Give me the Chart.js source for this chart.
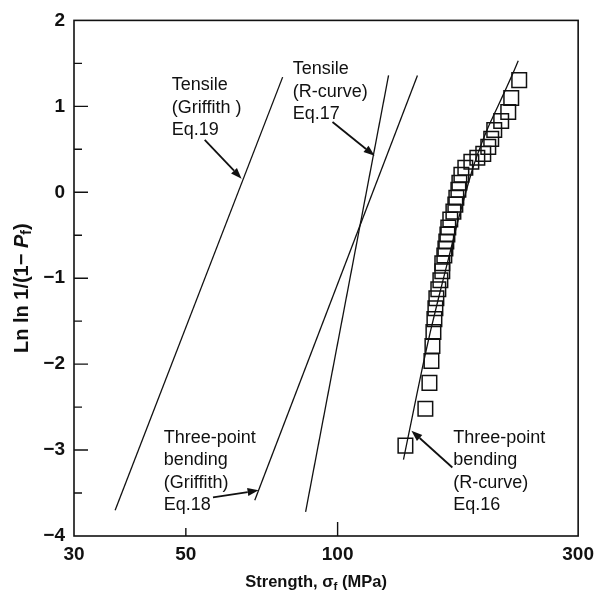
<!DOCTYPE html>
<html><head><meta charset="utf-8">
<script src="https://cdn.jsdelivr.net/npm/chart.js@4.4.1/dist/chart.umd.min.js"></script>
<style>html,body{margin:0;padding:0;background:#fff;}#wrap{width:601px;height:594px;}</style>
</head><body><div id="wrap"><canvas id="c" width="601" height="594"></canvas></div>
<script>
// ---------- data ----------
const xTickValues = [30, 50, 100, 300];
const yTickValues = [-4, -3, -2, -1, 0, 1, 2];
const yInnerTicks = [-3.5, -3, -2.5, -2, -1.5, -1, -0.5, 0, 0.5, 1, 1.5];
const xInnerTicks = [50, 100];

// Tensile (Griffith) Eq.19
const tensileGriffithX = [36.2, 77.8];
const tensileGriffithY = [-3.70, 1.34];
// Tensile (R-curve) Eq.17
const tensileRcurveX = [86.4, 126.2];
const tensileRcurveY = [-3.72, 1.36];
// Three-point bending (Griffith) Eq.18
const bendGriffithX = [68.5, 144.0];
const bendGriffithY = [-3.585, 1.36];
// Three-point bending (R-curve) Eq.16
const bendRcurveX = [135.1, 140.1, 147.3, 152.8, 159.2, 165.8, 172.8, 179.2, 185.9, 192.8, 199.0, 204.5, 212.1, 221.0, 228.2];
const bendRcurveY = [-3.11, -2.66, -2.04, -1.62, -1.19, -0.78, -0.36, -0.02, 0.30, 0.56, 0.76, 0.91, 1.11, 1.34, 1.53];
// measured strengths (squares)
const strengthX = [229.2, 221.0, 218.0, 211.1, 204.5, 201.7, 199.0, 194.5, 189.3, 184.2, 179.2, 176.0, 174.4, 173.6, 172.0, 171.2, 169.7, 167.3, 165.8, 165.1, 164.3, 163.6, 162.8, 161.3, 161.3, 159.9, 158.4, 157.0, 156.3, 155.6, 154.9, 154.2, 153.5, 152.1, 149.3, 136.3];
const lnlnY = [1.305, 1.096, 0.934, 0.830, 0.725, 0.621, 0.528, 0.447, 0.401, 0.355, 0.285, 0.204, 0.111, 0.030, -0.063, -0.144, -0.225, -0.317, -0.410, -0.491, -0.572, -0.654, -0.735, -0.827, -0.920, -1.024, -1.129, -1.233, -1.349, -1.476, -1.627, -1.789, -1.963, -2.218, -2.519, -2.948];

// annotation labels (anchor in data units)
const labelTexts = [
  ["Tensile", "(Griffith )", "Eq.19"],
  ["Tensile", "(R-curve)", "Eq.17"],
  ["Three-point", "bending", "(Griffith)", "Eq.18"],
  ["Three-point", "bending", "(R-curve)", "Eq.16"]
];
const labelX = [46.9, 81.5, 45.2, 169.6];
const labelY = [1.247, 1.432, -2.855, -2.855];
// arrows: tail -> tip (data units)
const arrowTailX = [54.5, 97.7, 56.6, 168.9];
const arrowTailY = [0.609, 0.818, -3.550, -3.203];
const arrowTipX = [64.5, 118.4, 69.7, 140.1];
const arrowTipY = [0.158, 0.424, -3.469, -2.774];

const zip = (xs, ys) => xs.map((v, i) => ({x: v, y: ys[i]}));
const FONT = "'Liberation Sans', Arial, Helvetica, sans-serif";
const INK = '#111';

function drawRich(ctx, parts, x, y, size) {
  let cx = x;
  parts.forEach(p => {
    const s = p.sub ? size * 0.7 : size;
    ctx.font = (p.italic ? 'italic ' : '') + 'bold ' + s + 'px ' + FONT;
    ctx.fillText(p.t, cx, y + (p.sub ? size * 0.28 : 0));
    cx += ctx.measureText(p.t).width;
  });
  return cx - x;
}
function measureRich(ctx, parts, size) {
  let w = 0;
  parts.forEach(p => {
    const s = p.sub ? size * 0.7 : size;
    ctx.font = (p.italic ? 'italic ' : '') + 'bold ' + s + 'px ' + FONT;
    w += ctx.measureText(p.t).width;
  });
  return w;
}

const overlay = {
  id: 'overlay',
  afterDraw(chart) {
    const {ctx, chartArea: a, scales: {x, y}} = chart;
    ctx.save();
    ctx.strokeStyle = INK; ctx.fillStyle = INK;
    ctx.lineWidth = 1.6;
    ctx.strokeRect(a.left, a.top, a.right - a.left, a.bottom - a.top);
    ctx.lineWidth = 1.4;
    ctx.beginPath();
    yInnerTicks.forEach(v => {
      const py = y.getPixelForValue(v);
      const len = Number.isInteger(v) ? 14 : 8;
      ctx.moveTo(a.left, py); ctx.lineTo(a.left + len, py);
    });
    xInnerTicks.forEach(v => {
      const px = x.getPixelForValue(v);
      const len = (Math.log10(v) % 1 === 0) ? 14 : 8;
      ctx.moveTo(px, a.bottom); ctx.lineTo(px, a.bottom - len);
    });
    ctx.stroke();

    ctx.font = '18px ' + FONT;
    ctx.textAlign = 'left'; ctx.textBaseline = 'middle';
    labelTexts.forEach((lines, i) => {
      const px = x.getPixelForValue(labelX[i]);
      const py = y.getPixelForValue(labelY[i]);
      lines.forEach((t, k) => ctx.fillText(t, px, py + k * 22.5));
    });

    ctx.lineWidth = 1.8;
    arrowTailX.forEach((_, i) => {
      const x0 = x.getPixelForValue(arrowTailX[i]), y0 = y.getPixelForValue(arrowTailY[i]);
      const x1 = x.getPixelForValue(arrowTipX[i]), y1 = y.getPixelForValue(arrowTipY[i]);
      const ang = Math.atan2(y1 - y0, x1 - x0);
      const hl = 11, hw = 4;
      const bx = x1 - hl * Math.cos(ang), by = y1 - hl * Math.sin(ang);
      ctx.beginPath(); ctx.moveTo(x0, y0); ctx.lineTo(bx, by); ctx.stroke();
      ctx.beginPath();
      ctx.moveTo(x1, y1);
      ctx.lineTo(bx + hw * Math.sin(ang), by - hw * Math.cos(ang));
      ctx.lineTo(bx - hw * Math.sin(ang), by + hw * Math.cos(ang));
      ctx.closePath(); ctx.fill();
    });

    ctx.textBaseline = 'middle'; ctx.textAlign = 'left';
    const xt = [{t: 'Strength, '}, {t: 'σ'}, {t: 'f', sub: true}, {t: ' (MPa)'}];
    const xw = measureRich(ctx, xt, 16.5);
    drawRich(ctx, xt, (a.left + a.right) / 2 - 10 - xw / 2, 582, 16.5);

    const yt = [{t: 'Ln ln 1/(1− '}, {t: 'P', italic: true}, {t: 'f', sub: true}, {t: ')'}];
    const yw = measureRich(ctx, yt, 20);
    ctx.save();
    ctx.translate(22, (a.top + a.bottom) / 2 + 10);
    ctx.rotate(-Math.PI / 2);
    drawRich(ctx, yt, -yw / 2, 0, 20);
    ctx.restore();
    ctx.restore();
  }
};

const lineDs = (data, extra) => Object.assign({
  data, showLine: true, borderColor: INK, borderWidth: 1.3, pointRadius: 0, fill: false, tension: 0
}, extra || {});

new Chart(document.getElementById('c'), {
  type: 'scatter',
  data: {
    datasets: [
      lineDs(zip(tensileGriffithX, tensileGriffithY)),
      lineDs(zip(tensileRcurveX, tensileRcurveY)),
      lineDs(zip(bendGriffithX, bendGriffithY)),
      lineDs(zip(bendRcurveX, bendRcurveY), {tension: 0.3}),
      {
        data: zip(strengthX, lnlnY), showLine: false,
        pointStyle: 'rect', pointRadius: 10.3, pointBorderWidth: 1.5,
        pointBorderColor: INK, pointBackgroundColor: 'rgba(0,0,0,0)'
      }
    ]
  },
  options: {
    responsive: false, animation: false,
    layout: {padding: {top: 18, right: 22, left: 0, bottom: 0}},
    plugins: {legend: {display: false}, tooltip: {enabled: false}},
    scales: {
      x: {
        type: 'logarithmic', min: 30, max: 300,
        afterBuildTicks: s => { s.ticks = xTickValues.map(v => ({value: v})); },
        afterFit: s => { s.height = 58; },
        grid: {display: false, drawTicks: false}, border: {display: false},
        ticks: {autoSkip: false, maxRotation: 0, padding: 7, color: INK,
          font: {family: FONT, size: 19, weight: 'bold'},
          callback: v => String(v)}
      },
      y: {
        min: -4, max: 2,
        afterBuildTicks: s => { s.ticks = yTickValues.map(v => ({value: v})); },
        afterFit: s => { s.width = 74; },
        grid: {display: false, drawTicks: false}, border: {display: false},
        ticks: {padding: 9, color: INK,
          font: {family: FONT, size: 19, weight: 'bold'},
          callback: v => v < 0 ? '−' + Math.abs(v) : String(v)}
      }
    }
  },
  plugins: [overlay]
});
</script></body></html>
